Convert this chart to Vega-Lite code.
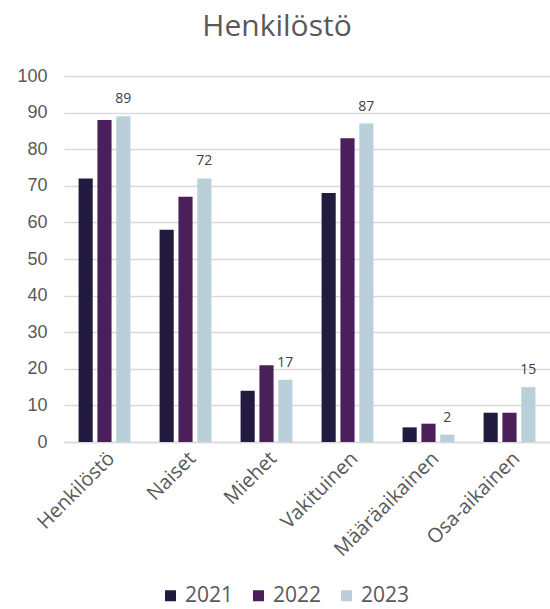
{
  "$schema": "https://vega.github.io/schema/vega-lite/v6.json",
  "autosize": {"type": "none"},
  "padding": {"left": 64, "top": 76, "right": 0, "bottom": 167},
  "width": 486,
  "height": 366,
  "title": {
    "text": "Henkilöstö",
    "fontSize": 30,
    "font": "Open Sans",
    "fontWeight": "normal",
    "color": "#595959",
    "anchor": "middle",
    "dx": -30,
    "offset": 25
  },
  "data": {
    "values": [
      {"kategoria": "Henkilöstö", "vuosi": "2021", "arvo": 72},
      {"kategoria": "Henkilöstö", "vuosi": "2022", "arvo": 88},
      {"kategoria": "Henkilöstö", "vuosi": "2023", "arvo": 89},
      {"kategoria": "Naiset", "vuosi": "2021", "arvo": 58},
      {"kategoria": "Naiset", "vuosi": "2022", "arvo": 67},
      {"kategoria": "Naiset", "vuosi": "2023", "arvo": 72},
      {"kategoria": "Miehet", "vuosi": "2021", "arvo": 14},
      {"kategoria": "Miehet", "vuosi": "2022", "arvo": 21},
      {"kategoria": "Miehet", "vuosi": "2023", "arvo": 17},
      {"kategoria": "Vakituinen", "vuosi": "2021", "arvo": 68},
      {"kategoria": "Vakituinen", "vuosi": "2022", "arvo": 83},
      {"kategoria": "Vakituinen", "vuosi": "2023", "arvo": 87},
      {"kategoria": "Määräaikainen", "vuosi": "2021", "arvo": 4},
      {"kategoria": "Määräaikainen", "vuosi": "2022", "arvo": 5},
      {"kategoria": "Määräaikainen", "vuosi": "2023", "arvo": 2},
      {"kategoria": "Osa-aikainen", "vuosi": "2021", "arvo": 8},
      {"kategoria": "Osa-aikainen", "vuosi": "2022", "arvo": 8},
      {"kategoria": "Osa-aikainen", "vuosi": "2023", "arvo": 15}
    ]
  },
  "encoding": {
    "x": {
      "field": "kategoria",
      "type": "nominal",
      "sort": null,
      "scale": {"paddingInner": 0.36, "paddingOuter": 0.18},
      "axis": {
        "title": null,
        "labelAngle": -45,
        "labelFontSize": 20,
        "labelFont": "Open Sans",
        "labelColor": "#595959",
        "labelPadding": 6,
        "ticks": false,
        "domainColor": "#D9D9D9",
        "domainWidth": 1.5
      }
    },
    "xOffset": {
      "field": "vuosi",
      "type": "nominal",
      "scale": {"domain": ["2021", "2022", "2023"], "paddingInner": 0.25}
    },
    "y": {
      "field": "arvo",
      "type": "quantitative",
      "scale": {"domain": [0, 100]},
      "axis": {
        "title": null,
        "values": [0, 10, 20, 30, 40, 50, 60, 70, 80, 90, 100],
        "labelFontSize": 18,
        "labelFont": "Liberation Sans",
        "labelColor": "#595959",
        "labelPadding": 17,
        "domain": false,
        "ticks": false,
        "gridColor": "#D9D9D9",
        "gridWidth": 1.5
      }
    }
  },
  "layer": [
    {
      "mark": {"type": "bar"},
      "encoding": {
        "color": {
          "field": "vuosi",
          "type": "nominal",
          "scale": {"domain": ["2021", "2022", "2023"], "range": ["#231B3F", "#4B1F5A", "#B9CFDA"]},
          "legend": {
            "title": null,
            "orient": "none",
            "direction": "horizontal",
            "legendX": 96,
            "legendY": 509,
            "symbolType": "square",
            "symbolSize": 121,
            "symbolStrokeWidth": 0,
            "labelFontSize": 21,
            "labelFont": "Open Sans",
            "labelColor": "#595959",
            "labelOffset": 4,
            "columnPadding": 14
          }
        }
      }
    },
    {
      "transform": [{"filter": "datum.vuosi == '2023'"}],
      "mark": {"type": "text", "baseline": "bottom", "dy": -10, "fontSize": 14, "font": "Open Sans", "color": "#404040"},
      "encoding": {
        "text": {"field": "arvo", "type": "quantitative"}
      }
    }
  ],
  "config": {
    "view": {"stroke": null}
  }
}
